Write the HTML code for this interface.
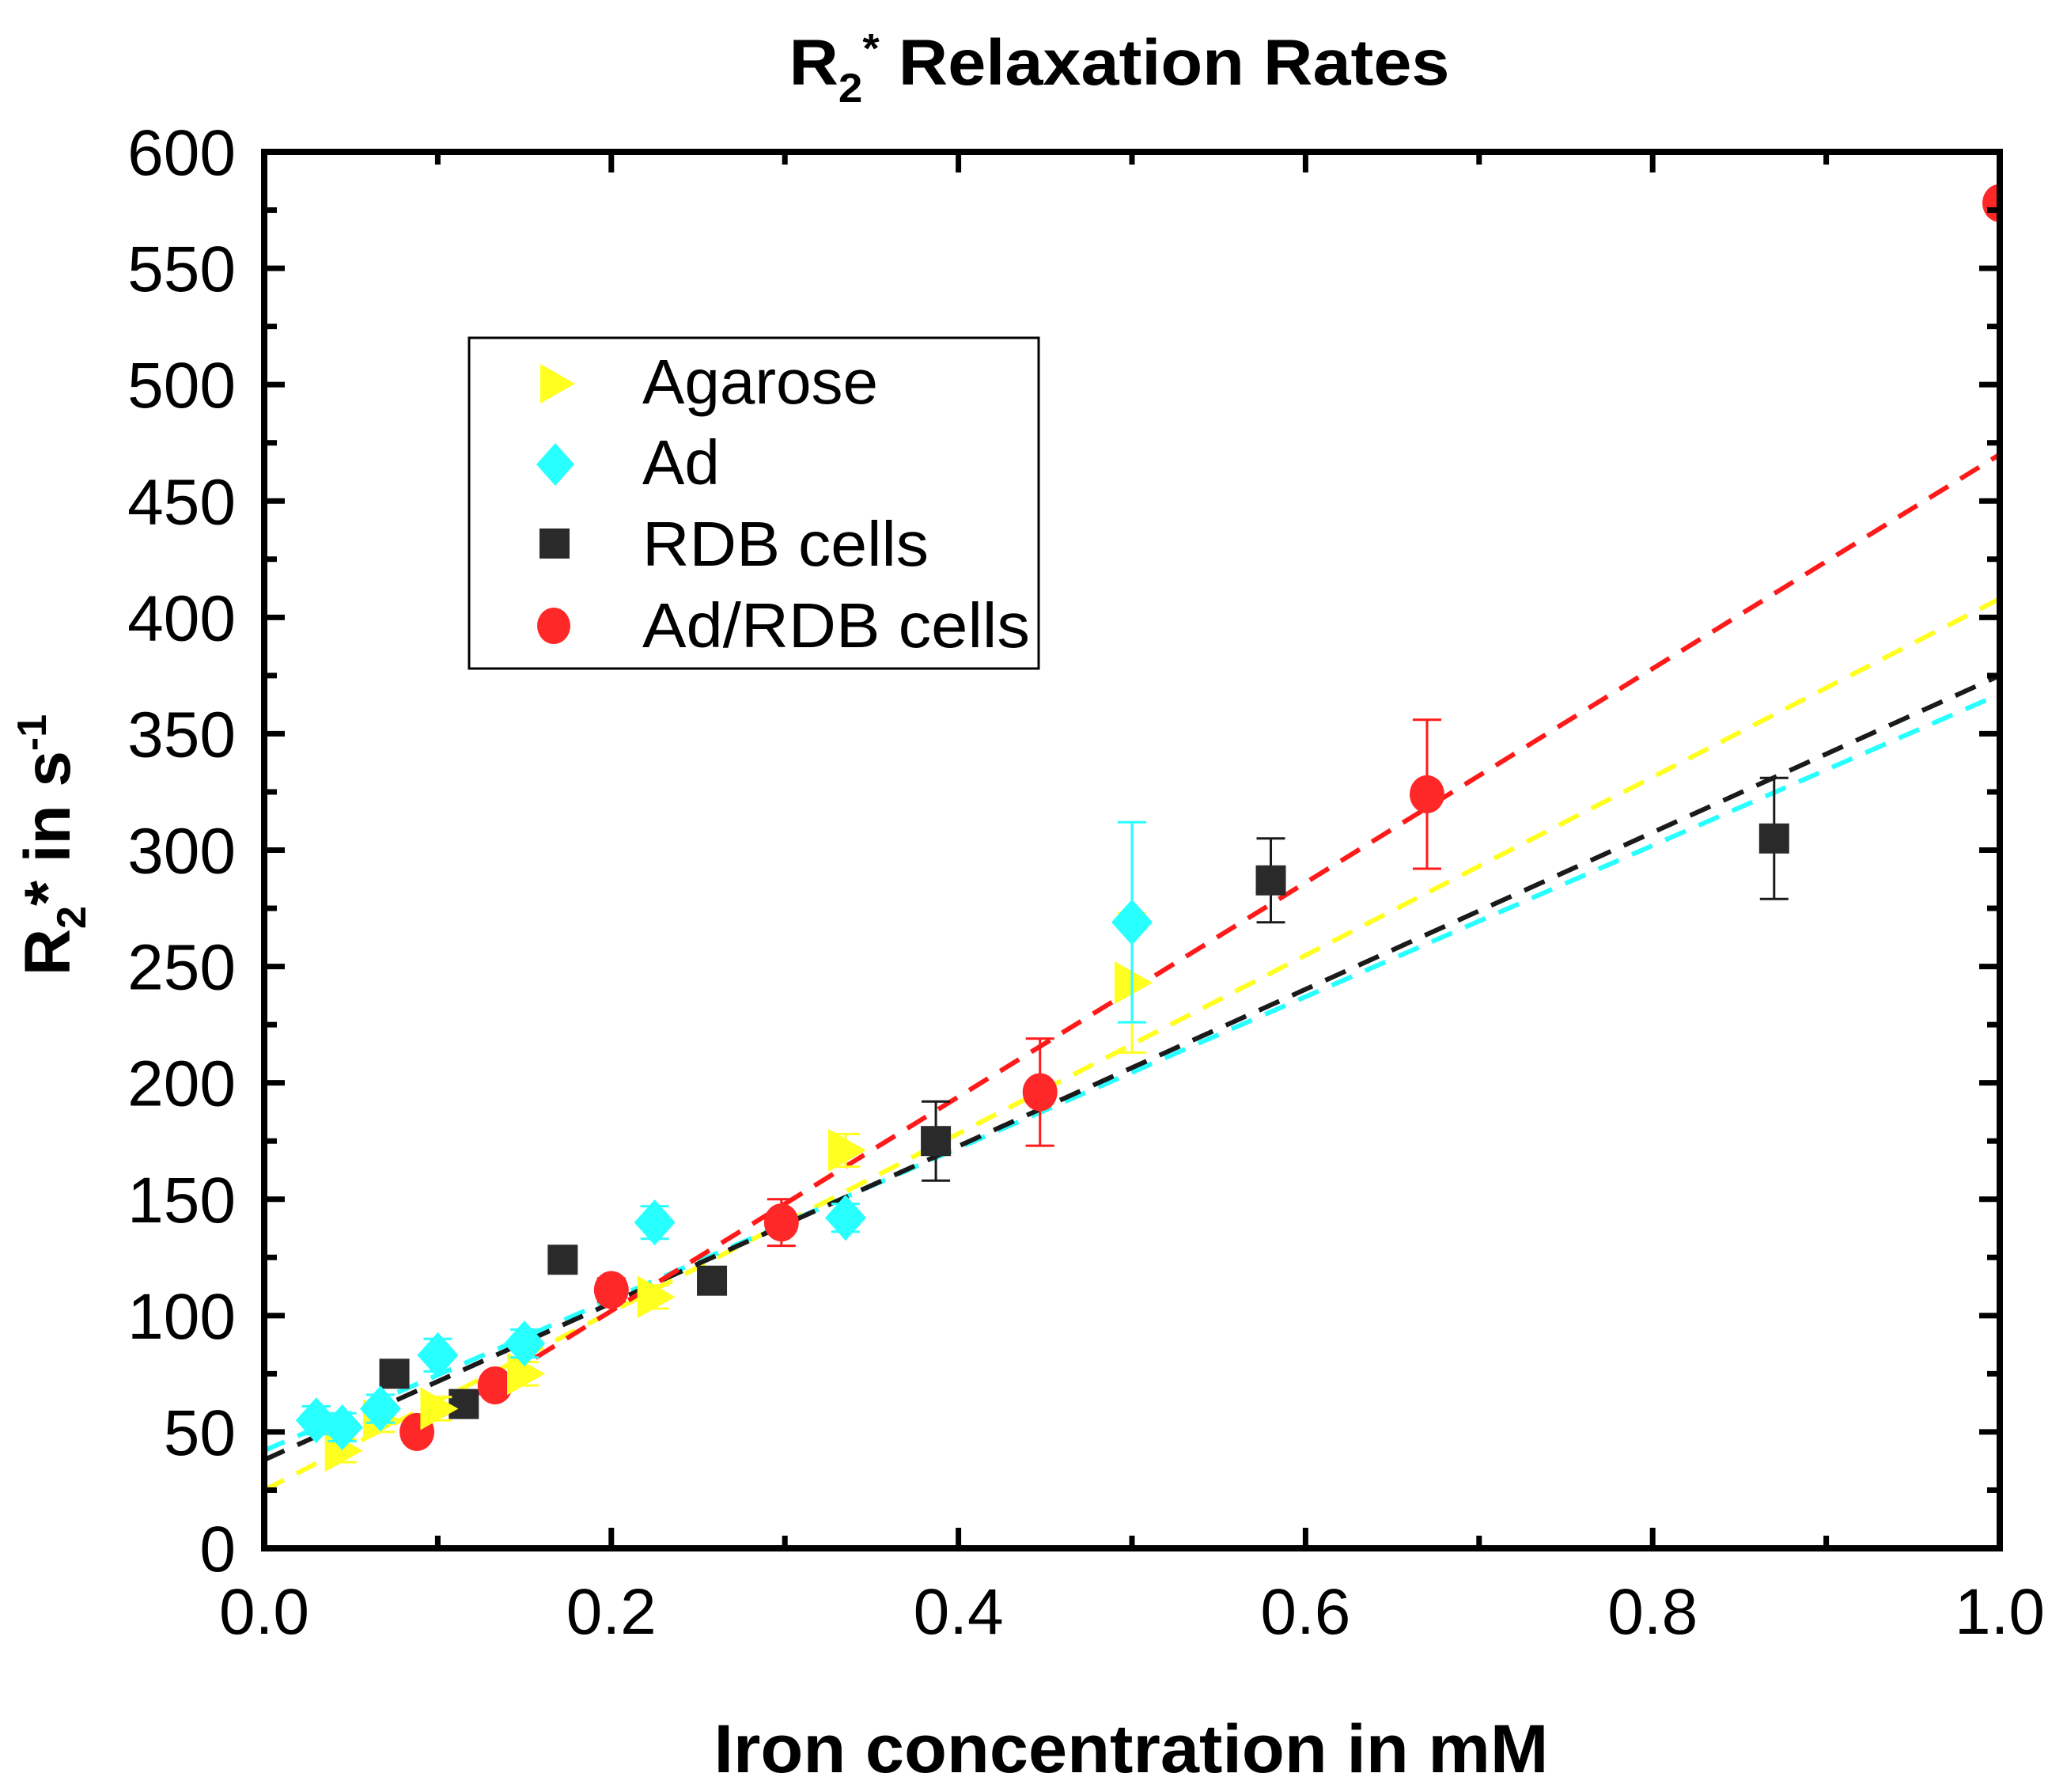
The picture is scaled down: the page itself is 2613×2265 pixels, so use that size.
<!DOCTYPE html>
<html><head><meta charset="utf-8"><style>
html,body{margin:0;padding:0;background:#fff;}
svg{display:block;font-family:"Liberation Sans",sans-serif;}
</style></head><body>
<svg id="chart" width="2613" height="2265" viewBox="0 0 2613 2265" xmlns="http://www.w3.org/2000/svg">
<defs><clipPath id="plotclip"><rect x="334" y="192" width="2194" height="1765"/></clipPath></defs>
<text x="1415" y="107" text-anchor="middle" font-weight="bold" font-size="82" textLength="835" lengthAdjust="spacingAndGlyphs">R<tspan font-size="52" dy="22">2</tspan><tspan font-size="52" dy="-50">*</tspan><tspan dy="28"> Relaxation Rates</tspan></text>
<g id="lines" clip-path="url(#plotclip)"></g>
<g id="marks" clip-path="url(#plotclip)"></g>
<g id="axes"></g>
<text x="1430" y="2240" text-anchor="middle" font-weight="bold" font-size="86" textLength="1055" lengthAdjust="spacingAndGlyphs">Iron concentration in mM</text>
<text transform="translate(88,1068) rotate(-90)" text-anchor="middle" font-weight="bold" font-size="82">R<tspan font-size="52" dy="20">2</tspan><tspan dy="-20">* in s</tspan><tspan font-size="52" dy="-30">-1</tspan></text>
<g>
<rect x="593" y="427" width="720" height="418" fill="#fff" stroke="#000" stroke-width="3"/>
<polygon points="683,460 727,485 683,510" fill="#ffff20"/>
<text x="812" y="510" font-size="80">Agarose</text>
<polygon points="702,560 726,587 702,614 678,587" fill="#28ffff"/>
<text x="812" y="612" font-size="80">Ad</text>
<rect x="682" y="668" width="38" height="38" fill="#2a2a2a"/>
<text x="812" y="715" font-size="80" textLength="362" lengthAdjust="spacingAndGlyphs">RDB cells</text>
<ellipse cx="700" cy="791" rx="21" ry="23" fill="#ff2828"/>
<text x="812" y="818" font-size="80" textLength="490" lengthAdjust="spacingAndGlyphs">Ad/RDB cells</text>
</g>
</svg>
<script>
const agaroseX=[0.045,0.067,0.1,0.15,0.225,0.335,0.5];
const agaroseY=[42,55,60,75,108,171,243];
const agaroseErr=[5,5,5,5,5,7,30];
const adX=[0.03,0.045,0.067,0.1,0.15,0.225,0.335,0.5];
const adY=[55,52,60,83,88,140,142,269];
const adErr=[6,6,6,7,6,7,6,43];
const rdbX=[0.075,0.115,0.172,0.258,0.387,0.58,0.87];
const rdbY=[75,62,124,115,175,287,305];
const rdbErr=[4,4,4,4,17,18,26];
const adrdbX=[0.088,0.133,0.2,0.298,0.447,0.67,1.0];
const adrdbY=[50,70,111,140,196,324,578];
const adrdbErr=[4,4,5,10,23,32,0];
const fitNames=['agarose','ad','rdb','adrdb'];
const fitIntercepts=[25,42,38,10];
const fitSlopes=[383,325,337,460];
const fitStarts=[0,0,0,0.085];
const xTicks=[0,0.2,0.4,0.6,0.8,1.0];
const xTickLabels=['0.0','0.2','0.4','0.6','0.8','1.0'];
const yTicks=[0,50,100,150,200,250,300,350,400,450,500,550,600];

const X0=334,X1=2528,Y0=1957,Y1=192;
const sx=v=>X0+(X1-X0)*v;
const sy=v=>Y0-(Y0-Y1)*v/600;
const NS='http://www.w3.org/2000/svg';
function mk(tag,attrs,parent){const e=document.createElementNS(NS,tag);for(const k in attrs)e.setAttribute(k,attrs[k]);parent.appendChild(e);return e;}
const lines=document.getElementById('lines'),marks=document.getElementById('marks'),axes=document.getElementById('axes');
const colors={agarose:'#ffff20',ad:'#28ffff',rdb:'#1a1a1a',adrdb:'#ff1a1a'};

fitNames.forEach((n,i)=>{
  const l=mk('line',{x1:sx(fitStarts[i]),y1:sy(fitIntercepts[i]+fitSlopes[i]*fitStarts[i]),x2:sx(1),y2:sy(fitIntercepts[i]+fitSlopes[i]),stroke:colors[n],'stroke-width':6,'stroke-dasharray':'28,18'},lines);
  
  
});

function errbar(x,y,e,c){
  if(e<=0)return;
  const g=mk('g',{stroke:c,'stroke-width':3},marks);
  
  
  mk('line',{x1:sx(x),y1:sy(y-e),x2:sx(x),y2:sy(y+e)},g);
  mk('line',{x1:sx(x)-18,y1:sy(y-e),x2:sx(x)+18,y2:sy(y-e)},g);
  mk('line',{x1:sx(x)-18,y1:sy(y+e),x2:sx(x)+18,y2:sy(y+e)},g);
}
rdbX.forEach((x,i)=>{errbar(x,rdbY[i],rdbErr[i],'#1a1a1a');
  const m=mk('rect',{x:sx(x)-19,y:sy(rdbY[i])-19,width:38,height:38,fill:'#2a2a2a'},marks);
  
  });
adrdbX.forEach((x,i)=>{errbar(x,adrdbY[i],adrdbErr[i],'#ff1a1a');
  const m=mk('ellipse',{cx:sx(x),cy:sy(adrdbY[i]),rx:22,ry:24,fill:'#ff2828'},marks);
  
  });
agaroseX.forEach((x,i)=>{errbar(x,agaroseY[i],agaroseErr[i],'#ffff20');
  const cx=sx(x),cy=sy(agaroseY[i]);
  const m=mk('polygon',{points:`${cx-22},${cy-27} ${cx+26},${cy} ${cx-22},${cy+27}`,fill:'#ffff20'},marks);
  
  });
adX.forEach((x,i)=>{errbar(x,adY[i],adErr[i],'#28ffff');
  const cx=sx(x),cy=sy(adY[i]);
  const m=mk('polygon',{points:`${cx},${cy-29} ${cx+26},${cy} ${cx},${cy+29} ${cx-26},${cy}`,fill:'#28ffff'},marks);
  
  });

const fr=mk('rect',{x:X0,y:Y1,width:X1-X0,height:Y0-Y1,fill:'none',stroke:'#000','stroke-width':8},axes);


for(let v=0;v<=600;v+=25){
  const len=(v%50===0)?26:16;
  mk('line',{x1:X0,y1:sy(v),x2:X0+len,y2:sy(v),stroke:'#000','stroke-width':7},axes);
  mk('line',{x1:X1,y1:sy(v),x2:X1-len,y2:sy(v),stroke:'#000','stroke-width':7},axes);
}
for(let k=0;k<=10;k++){
  const v=k/10,len=(k%2===0)?26:16;
  mk('line',{x1:sx(v),y1:Y0,x2:sx(v),y2:Y0-len,stroke:'#000','stroke-width':7},axes);
  mk('line',{x1:sx(v),y1:Y1,x2:sx(v),y2:Y1+len,stroke:'#000','stroke-width':7},axes);
}
yTicks.forEach(v=>{
  const t=mk('text',{x:298,y:sy(v)+29,'text-anchor':'end','font-size':82},axes);
  t.textContent=String(v);
  
  
});
xTicks.forEach((v,i)=>{
  const t=mk('text',{x:sx(v),y:2065,'text-anchor':'middle','font-size':82},axes);
  t.textContent=xTickLabels[i];
  
  
});
</script>
</body></html>
